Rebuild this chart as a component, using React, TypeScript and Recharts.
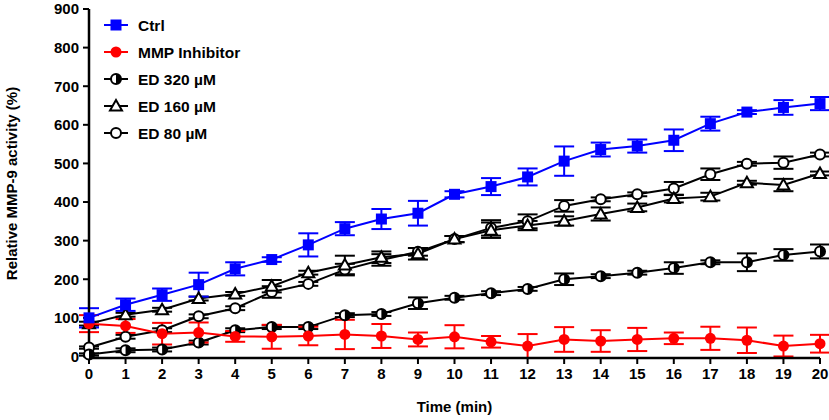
import React from 'react';
import { ComposedChart, Line, XAxis, YAxis, ErrorBar } from 'recharts';

const times = [0, 1, 2, 3, 4, 5, 6, 7, 8, 9, 10, 11, 12, 13, 14, 15, 16, 17, 18, 19, 20];
const xTicks = [0, 1, 2, 3, 4, 5, 6, 7, 8, 9, 10, 11, 12, 13, 14, 15, 16, 17, 18, 19, 20];
const yTicks = [0, 100, 200, 300, 400, 500, 600, 700, 800, 900];

const ctrl = [100, 134, 160, 186, 227, 251, 289, 331, 356, 371, 420, 440, 465, 506, 536, 545, 560, 603, 633, 645, 655];
const ctrlErr = [25, 16, 16, 31, 17, 6, 30, 17, 26, 32, 8, 22, 22, 38, 18, 17, 28, 18, 5, 19, 17];
const mmp = [85, 79, 59, 62, 52, 51, 53, 57, 53, 44, 51, 38, 27, 44, 40, 44, 47, 47, 42, 27, 33];
const mmpErr = [22, 18, 28, 26, 14, 31, 24, 38, 31, 18, 30, 15, 31, 32, 28, 30, 15, 30, 33, 27, 23];
const ed320 = [5, 16, 18, 36, 68, 76, 76, 107, 110, 138, 152, 164, 175, 200, 208, 217, 229, 244, 244, 263, 272];
const ed320Err = [3, 5, 5, 5, 5, 5, 5, 5, 5, 15, 5, 5, 5, 15, 5, 5, 15, 5, 23, 15, 18];
const ed160 = [85, 108, 121, 150, 162, 182, 217, 237, 257, 266, 304, 327, 339, 351, 369, 386, 409, 414, 450, 444, 474];
const ed160Err = [5, 5, 5, 5, 5, 16, 5, 24, 15, 15, 8, 20, 12, 12, 17, 10, 10, 10, 5, 16, 5];
const ed80 = [23, 51, 68, 104, 125, 167, 188, 225, 250, 271, 304, 333, 350, 390, 407, 420, 435, 472, 499, 502, 523];
const ed80Err = [3, 5, 5, 5, 5, 15, 5, 15, 15, 10, 8, 20, 18, 15, 5, 5, 17, 15, 5, 16, 5];

const seriesNames = ['Ctrl', 'MMP Inhibitor', 'ED 320 µM', 'ED 160 µM', 'ED 80 µM'];

const data = times.map((t, i) => ({
  t,
  ctrl: ctrl[i], ctrlErr: ctrlErr[i],
  mmp: mmp[i], mmpErr: mmpErr[i],
  ed320: ed320[i], ed320Err: ed320Err[i],
  ed160: ed160[i], ed160Err: ed160Err[i],
  ed80: ed80[i], ed80Err: ed80Err[i],
}));

const FONT = '"Liberation Sans", Arial, Helvetica, sans-serif';
const BLUE = '#0000ff';
const RED = '#ff0000';

type Shape = 'square' | 'dot' | 'half' | 'tri' | 'open';

function Marker({ shape, cx, cy }: { shape: Shape; cx: number; cy: number }) {
  const r = 5.5;
  if (shape === 'square') {
    return <rect x={cx - 5.5} y={cy - 5.5} width={11} height={11} fill={BLUE} />;
  }
  if (shape === 'dot') {
    return <circle cx={cx} cy={cy} r={r} fill={RED} />;
  }
  if (shape === 'half') {
    return (
      <g>
        <circle cx={cx} cy={cy} r={r - 0.5} fill="#fff" stroke="#000" strokeWidth={2} />
        <path d={`M ${cx} ${cy - r + 0.5} A ${r - 0.5} ${r - 0.5} 0 0 1 ${cx} ${cy + r - 0.5} Z`} fill="#000" />
      </g>
    );
  }
  if (shape === 'tri') {
    return (
      <polygon
        points={`${cx},${cy - 6} ${cx - 6},${cy + 4.5} ${cx + 6},${cy + 4.5}`}
        fill="#fff"
        stroke="#000"
        strokeWidth={2}
        strokeLinejoin="miter"
      />
    );
  }
  return <circle cx={cx} cy={cy} r={r - 0.5} fill="#fff" stroke="#000" strokeWidth={2} />;
}

const makeDot = (shape: Shape) => (props: any) => {
  const { cx, cy, index } = props;
  if (cx == null || cy == null) return <g key={`d-${shape}-${index}`} />;
  return (
    <g key={`d-${shape}-${index}`}>
      <Marker shape={shape} cx={cx} cy={cy} />
    </g>
  );
};

const legendItems: { name: string; color: string; shape: Shape }[] = [
  { name: seriesNames[0], color: BLUE, shape: 'square' },
  { name: seriesNames[1], color: RED, shape: 'dot' },
  { name: seriesNames[2], color: '#000', shape: 'half' },
  { name: seriesNames[3], color: '#000', shape: 'tri' },
  { name: seriesNames[4], color: '#000', shape: 'open' },
];

const tickStyle = { fontFamily: FONT, fontWeight: 'bold', fontSize: 15, fill: '#000' } as any;

function LegendBox() {
  return (
    <svg
      width={200}
      height={150}
      style={{ position: 'absolute', left: 100, top: 10, display: 'block', overflow: 'visible' }}
    >
      {legendItems.map((it, i) => {
        const y = 15 + i * 27;
        return (
          <g key={it.name}>
            <line x1={4} x2={28} y1={y} y2={y} stroke={it.color} strokeWidth={2} />
            <Marker shape={it.shape} cx={16} cy={y} />
            <text
              x={38}
              y={y}
              dy="0.36em"
              fontFamily={FONT}
              fontWeight="bold"
              fontSize={15.5}
              fill="#000"
            >
              {it.name}
            </text>
          </g>
        );
      })}
    </svg>
  );
}

export default function App() {
  return (
    <div style={{ position: 'absolute', left: 0, top: 0, width: 829, height: 420, background: '#fff' }}>
      <ComposedChart
        width={829}
        height={420}
        data={data}
        margin={{ top: 9, right: 9, left: 0, bottom: 0 }}
      >
        <XAxis
          dataKey="t"
          type="number"
          domain={[0, 20]}
          ticks={xTicks}
          interval={0}
          height={62}
          tick={tickStyle}
          tickSize={6}
          tickMargin={4}
          axisLine={{ stroke: '#000', strokeWidth: 2.5 }}
          tickLine={{ stroke: '#000', strokeWidth: 2 }}
          allowDecimals={false}
          label={{
            value: 'Time (min)',
            position: 'insideBottom',
            offset: 8,
            style: { fontFamily: FONT, fontWeight: 'bold', fontSize: 15, fill: '#000' },
          }}
        />
        <YAxis
          type="number"
          domain={[0, 900]}
          ticks={yTicks}
          interval={0}
          width={89}
          tick={tickStyle}
          tickSize={6}
          tickMargin={4}
          axisLine={{ stroke: '#000', strokeWidth: 2.5 }}
          tickLine={{ stroke: '#000', strokeWidth: 2 }}
          label={{
            value: 'Relative MMP-9 activity (%)',
            angle: -90,
            position: 'insideLeft',
            offset: 12,
            style: { fontFamily: FONT, fontWeight: 'bold', fontSize: 15, fill: '#000', textAnchor: 'middle' },
          }}
        />
        <Line
          dataKey="ed80"
          name={seriesNames[4]}
          stroke="#000"
          strokeWidth={2}
          isAnimationActive={false}
          dot={makeDot('open')}
          activeDot={false}
        >
          <ErrorBar dataKey="ed80Err" direction="y" width={10} stroke="#000" strokeWidth={2} />
        </Line>
        <Line
          dataKey="ed160"
          name={seriesNames[3]}
          stroke="#000"
          strokeWidth={2}
          isAnimationActive={false}
          dot={makeDot('tri')}
          activeDot={false}
        >
          <ErrorBar dataKey="ed160Err" direction="y" width={10} stroke="#000" strokeWidth={2} />
        </Line>
        <Line
          dataKey="ed320"
          name={seriesNames[2]}
          stroke="#000"
          strokeWidth={2}
          isAnimationActive={false}
          dot={makeDot('half')}
          activeDot={false}
        >
          <ErrorBar dataKey="ed320Err" direction="y" width={10} stroke="#000" strokeWidth={2} />
        </Line>
        <Line
          dataKey="mmp"
          name={seriesNames[1]}
          stroke={RED}
          strokeWidth={2}
          isAnimationActive={false}
          dot={makeDot('dot')}
          activeDot={false}
        >
          <ErrorBar dataKey="mmpErr" direction="y" width={10} stroke={RED} strokeWidth={2} />
        </Line>
        <Line
          dataKey="ctrl"
          name={seriesNames[0]}
          stroke={BLUE}
          strokeWidth={2}
          isAnimationActive={false}
          dot={makeDot('square')}
          activeDot={false}
        >
          <ErrorBar dataKey="ctrlErr" direction="y" width={10} stroke={BLUE} strokeWidth={2} />
        </Line>
      </ComposedChart>
      <LegendBox />
    </div>
  );
}
